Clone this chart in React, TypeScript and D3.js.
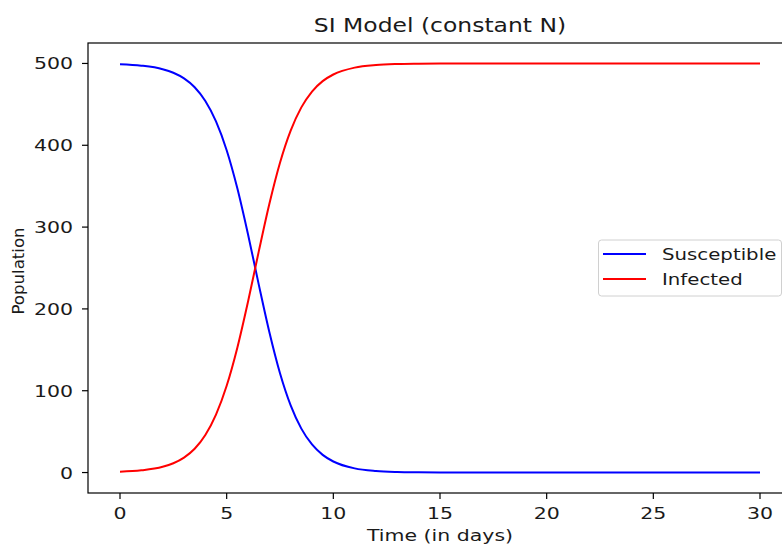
import React, { useRef, useEffect } from "react";
import * as d3 from "d3";

const days = [0, 1, 2, 2.5, 3, 3.5, 4, 4.5, 5, 5.5, 6, 6.5, 7, 7.5, 8, 8.5, 9, 9.5, 10, 11, 12, 13, 14, 15, 20, 25, 30];
const infected = [1, 2.7, 7, 11.4, 18.3, 29.1, 45.9, 70.8, 106, 152.6, 208.8, 269.7, 328.2, 378.6, 417.9, 446.3, 465.7, 478.4, 486.5, 494.9, 498.1, 499.3, 499.7, 499.9, 500, 500, 500];
const susceptible = [499, 497.3, 493, 488.6, 481.7, 470.9, 454.1, 429.2, 394, 347.4, 291.2, 230.3, 171.8, 121.4, 82.1, 53.7, 34.3, 21.6, 13.5, 5.1, 1.9, 0.7, 0.3, 0.1, 0, 0, 0];
const xTicks = [0, 5, 10, 15, 20, 25, 30];
const yTicks = [0, 100, 200, 300, 400, 500];
const seriesNames = ["Susceptible", "Infected"];
const seriesColors = ["#0000ff", "#ff0000"];

export default function App() {
  const ref = useRef<SVGSVGElement>(null);

  useEffect(() => {
    const svg = d3.select(ref.current);
    svg.selectAll("*").remove();

    const width = 782;
    const height = 545;
    const left = 88, top = 43, right = 792, bottom = 493;
    const font = "DejaVu Sans, sans-serif";
    const sx = 1.235; // picture is stretched horizontally
    const fs = 16.6;

    const x = d3.scaleLinear().domain([-1.5, 31.5]).range([left, right]);
    const y = d3.scaleLinear().domain([-25, 525]).range([bottom, top]);

    svg.append("rect").attr("width", width).attr("height", height).attr("fill", "#fff");

    // horizontally stretched text helper
    const label = (tx: number, ty: number, txt: string, size: number, anchor: string) =>
      svg.append("text")
        .attr("transform", `translate(${tx},${ty}) scale(${sx},1)`)
        .attr("text-anchor", anchor)
        .style("font-family", font)
        .style("font-size", `${size}px`)
        .attr("fill", "#1a1a1a")
        .text(txt);

    const line = d3
      .line<number>()
      .x((_, i) => x(days[i]))
      .y((d) => y(d))
      .curve(d3.curveMonotoneX);

    [susceptible, infected].forEach((s, i) => {
      svg.append("path")
        .datum(s)
        .attr("d", line)
        .attr("fill", "none")
        .attr("stroke", seriesColors[i])
        .attr("stroke-width", 2);
    });

    // spines
    svg.append("rect")
      .attr("x", left).attr("y", top)
      .attr("width", right - left).attr("height", bottom - top)
      .attr("fill", "none").attr("stroke", "#000").attr("stroke-width", 1.2);

    // x ticks
    xTicks.forEach((t) => {
      svg.append("line")
        .attr("x1", x(t)).attr("x2", x(t))
        .attr("y1", bottom).attr("y2", bottom + 6)
        .attr("stroke", "#000").attr("stroke-width", 1.2);
      label(x(t), 519, String(t), fs, "middle");
    });

    // y ticks
    yTicks.forEach((t) => {
      svg.append("line")
        .attr("x1", left - 6).attr("x2", left)
        .attr("y1", y(t)).attr("y2", y(t))
        .attr("stroke", "#000").attr("stroke-width", 1.2);
      label(left - 15, y(t) + 6, String(t), fs, "end");
    });

    label((left + right) / 2, 32, "SI Model (constant N)", 19, "middle");
    label((left + right) / 2, 541, "Time (in days)", fs, "middle");

    svg.append("text")
      .attr("transform", `translate(23.5, ${(top + bottom) / 2 + 3}) rotate(-90)`)
      .attr("text-anchor", "middle")
      .style("font-family", font).style("font-size", `${fs}px`)
      .attr("fill", "#1a1a1a")
      .text("Population");

    // legend
    svg.append("rect")
      .attr("x", 598.5).attr("y", 240)
      .attr("width", 183).attr("height", 56)
      .attr("rx", 3)
      .attr("fill", "#fff").attr("fill-opacity", 0.8)
      .attr("stroke", "#d0d0d0");
    seriesNames.forEach((name, i) => {
      const ly = 254 + i * 25;
      svg.append("line")
        .attr("x1", 603).attr("x2", 646)
        .attr("y1", ly).attr("y2", ly)
        .attr("stroke", seriesColors[i]).attr("stroke-width", 2);
      label(662, ly + 6, name, 16, "start");
    });
  }, []);

  return (
    <svg
      ref={ref}
      width={782}
      height={545}
      style={{ position: "absolute", left: 0, top: 0, display: "block" }}
    />
  );
}
